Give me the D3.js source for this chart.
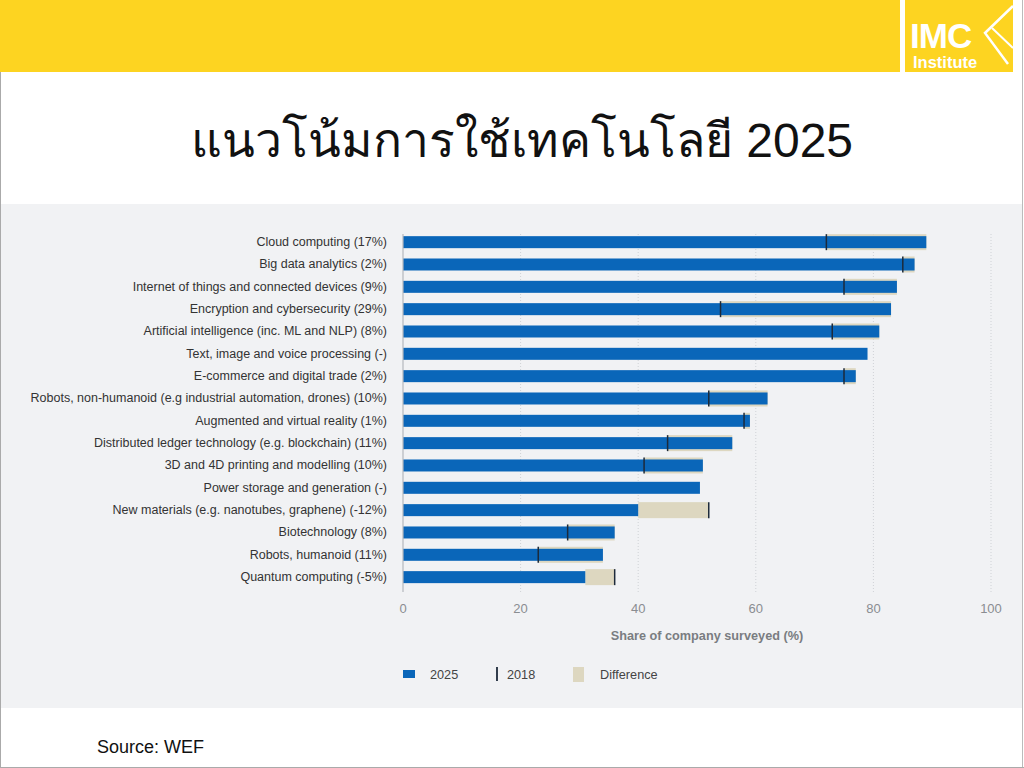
<!DOCTYPE html>
<html>
<head>
<meta charset="utf-8">
<script src="https://cdn.jsdelivr.net/npm/d3@7"></script>
<style>
  body { margin: 0; background: #fff; }
  svg { display: block; font-family: "Liberation Sans", Arial, sans-serif; }
</style>
</head>
<body>
<svg width="1024" height="768"></svg>
<script>
// data
const categories = [
   "Cloud computing (17%)",
   "Big data analytics (2%)",
   "Internet of things and connected devices (9%)",
   "Encryption and cybersecurity (29%)",
   "Artificial intelligence (inc. ML and NLP) (8%)",
   "Text, image and voice processing (-)",
   "E-commerce and digital trade (2%)",
   "Robots, non-humanoid (e.g industrial automation, drones) (10%)",
   "Augmented and virtual reality (1%)",
   "Distributed ledger technology (e.g. blockchain) (11%)",
   "3D and 4D printing and modelling (10%)",
   "Power storage and generation (-)",
   "New materials (e.g. nanotubes, graphene) (-12%)",
   "Biotechnology (8%)",
   "Robots, humanoid (11%)",
   "Quantum computing (-5%)"
];
const values2025 = [89, 87, 84, 83, 81, 79, 77, 62, 59, 56, 51, 50.5, 40, 36, 34, 31];
const values2018 = [72, 85, 75, 54, 73, null, 75, 52, 58, 45, 41, null, 52, 28, 23, 36];
const xTicks = [0, 20, 40, 60, 80, 100];

const svg = d3.select("svg");

// slide frame
svg.append("rect").attr("x", 0).attr("y", 0).attr("width", 1024).attr("height", 768).attr("fill", "#fff");
svg.append("rect").attr("x", 0).attr("y", 0).attr("width", 900).attr("height", 72).attr("fill", "#fdd421");
svg.append("rect").attr("x", 905).attr("y", 0).attr("width", 108).attr("height", 72).attr("fill", "#fdd421");
svg.append("line").attr("x1", 0.5).attr("x2", 0.5).attr("y1", 72).attr("y2", 768).attr("stroke", "#aaa");
svg.append("line").attr("x1", 1022.5).attr("x2", 1022.5).attr("y1", 0).attr("y2", 768).attr("stroke", "#bbb");
svg.append("line").attr("x1", 0).attr("x2", 1024).attr("y1", 767.5).attr("y2", 767.5).attr("stroke", "#aaa");

// logo
const logo = svg.append("g");
logo.append("text").attr("x", 910).attr("y", 48).attr("fill", "#fff")
   .style("font-size", "35px").style("font-weight", "bold").style("letter-spacing", "-1px").text("IMC");
logo.append("text").attr("x", 913).attr("y", 68).attr("fill", "#fff")
   .style("font-size", "16.5px").style("font-weight", "bold").text("Institute");
logo.append("path").attr("d", "M1013,6 L985,33 L1008,64").attr("fill", "none").attr("stroke", "#fff").attr("stroke-width", 2.5);
logo.append("path").attr("d", "M992,28 L1013,48").attr("fill", "none").attr("stroke", "#fff").attr("stroke-width", 2);

// title
svg.append("text").attr("x", 522).attr("y", 157).attr("text-anchor", "middle")
   .style("font-size", "48px").style("fill", "#111")
   .text("แนวโน้มการใช้เทคโนโลยี 2025");

// chart panel
svg.append("rect").attr("x", 1).attr("y", 204).attr("width", 1021).attr("height", 504).attr("fill", "#f1f2f4");

const scX = d3.scaleLinear().domain([0, 100]).range([403, 991]);
const scY = d3.scaleBand().domain(categories).range([231, 588.3]);
const mid = d => scY(d) + scY.bandwidth() / 2;

// grid
svg.append("g").selectAll("line").data(xTicks.slice(1)).enter().append("line")
   .attr("x1", d => scX(d)).attr("x2", d => scX(d))
   .attr("y1", 234).attr("y2", 592)
   .attr("stroke", "#cfd2d6").attr("stroke-dasharray", "1,2");

const rows = categories.map((c, i) => ({ c, v25: values2025[i], v18: values2018[i] }));

// difference
svg.append("g").selectAll("rect").data(rows.filter(d => d.v18 != null)).enter().append("rect")
   .attr("x", d => scX(Math.min(d.v25, d.v18)))
   .attr("width", d => Math.abs(scX(d.v25) - scX(d.v18)))
   .attr("y", d => mid(d.c) - 8).attr("height", 16)
   .attr("fill", "#ddd7c0");

// 2025 bars
svg.append("g").selectAll("rect").data(rows).enter().append("rect")
   .attr("x", scX(0)).attr("width", d => scX(d.v25) - scX(0))
   .attr("y", d => mid(d.c) - 6).attr("height", 12)
   .attr("fill", "#0a66b9");

// 2018 marker
svg.append("g").selectAll("line").data(rows.filter(d => d.v18 != null)).enter().append("line")
   .attr("x1", d => scX(d.v18)).attr("x2", d => scX(d.v18))
   .attr("y1", d => mid(d.c) - 8).attr("y2", d => mid(d.c) + 8)
   .attr("stroke", "#1d2a3a").attr("stroke-width", 1.5);

// axis line at zero
svg.append("line").attr("x1", scX(0)).attr("x2", scX(0)).attr("y1", 234).attr("y2", 592)
   .attr("stroke", "#b5b8bc").attr("stroke-width", 1.2);

// category labels
svg.append("g").selectAll("text").data(categories).enter().append("text")
   .attr("x", 387).attr("y", d => mid(d) + 4).attr("text-anchor", "end")
   .style("font-size", "12.5px").style("fill", "#333").text(d => d);

// x tick labels
svg.append("g").selectAll("text").data(xTicks).enter().append("text")
   .attr("x", d => scX(d)).attr("y", 613).attr("text-anchor", "middle")
   .style("font-size", "13px").style("fill", "#8a8d91").text(d => d);

svg.append("text").attr("x", 707).attr("y", 640).attr("text-anchor", "middle")
   .style("font-size", "12.7px").style("font-weight", "bold").style("fill", "#7a7d81")
   .text("Share of company surveyed (%)");

// legend
const lg = svg.append("g");
lg.append("rect").attr("x", 403).attr("y", 670).attr("width", 12).attr("height", 8).attr("fill", "#0a66b9");
lg.append("text").attr("x", 430).attr("y", 679).style("font-size", "12.7px").style("fill", "#444").text("2025");
lg.append("line").attr("x1", 497).attr("x2", 497).attr("y1", 667).attr("y2", 681).attr("stroke", "#1d2a3a").attr("stroke-width", 1.8);
lg.append("text").attr("x", 507).attr("y", 679).style("font-size", "12.7px").style("fill", "#444").text("2018");
lg.append("rect").attr("x", 573).attr("y", 667).attr("width", 11).attr("height", 15).attr("fill", "#ddd7c0");
lg.append("text").attr("x", 600).attr("y", 679).style("font-size", "12.7px").style("fill", "#444").text("Difference");

// source
svg.append("text").attr("x", 97).attr("y", 753).style("font-size", "18px").style("fill", "#111").text("Source: WEF");
</script>
</body>
</html>
